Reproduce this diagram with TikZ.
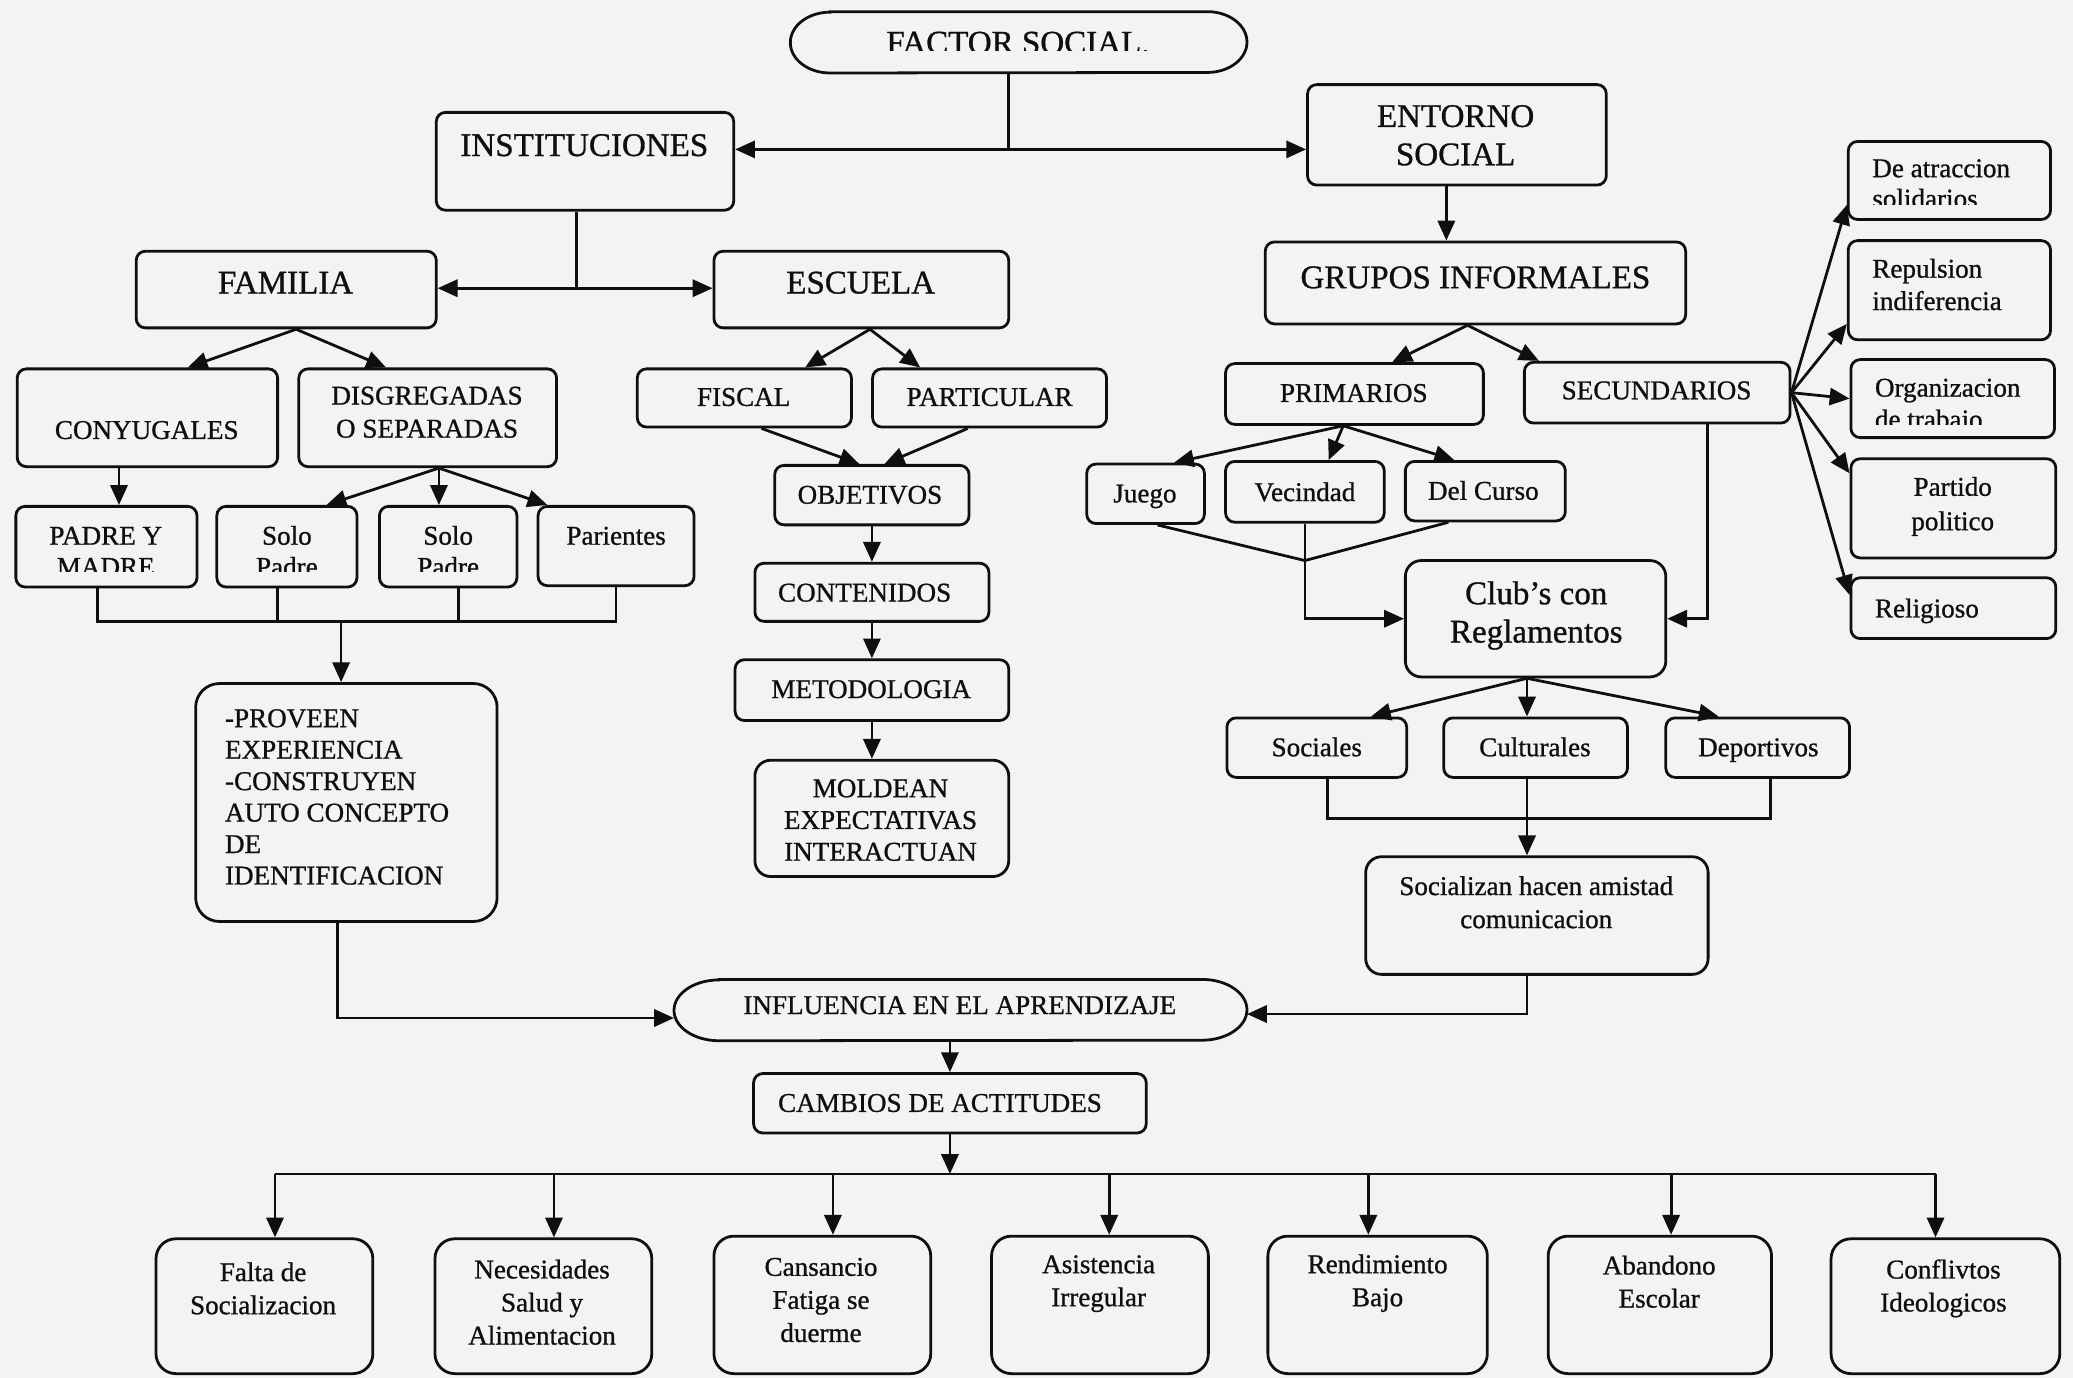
\documentclass[tikz,border=0pt]{standalone}
\usepackage{fontspec}
\setmainfont{Liberation Serif}[FakeBold=0.9]
\usetikzlibrary{arrows.meta,fit,calc}
\definecolor{ink}{RGB}{15,15,15}
\definecolor{paper}{RGB}{243,243,243}
\newcommand\fsm{\fontsize{20.5}{24.5}\selectfont}
\newcommand\fbig{\fontsize{25}{29}\selectfont}
\newcommand\ml[2][c]{\begin{tabular}[t]{@{}#1@{}}#2\end{tabular}}
\begin{document}
\begin{tikzpicture}[x=1pt,y=-1pt,
 bx/.style={draw=ink,line width=2.1pt,rounded corners=7pt,inner sep=0pt,fit={#1}},
 hid/.style={inner sep=0pt,fit={#1}},
 ln/.style={draw=ink,line width=2.1pt},
 arr/.style={ln,-{Triangle[length=15pt,width=13pt]}},
 tx/.style={inner sep=0pt,anchor=base,text=ink,font=\fsm},
 tl/.style={tx,anchor=base west},
 tb/.style={inner sep=0pt,anchor=base,text=ink,font=\fbig}]
\fill[paper] (0,0) rectangle (1568,1042);
\useasboundingbox (0,0) rectangle (1568,1042);

% ---------- top ----------
\node[hid={(598,9) (943,55)}] (fact) {};
\draw[ln] ([xshift=30pt]fact.north west) -- ([xshift=-30pt]fact.north east)
  arc[start angle=90,end angle=-90,x radius=30pt,y radius=23pt]
  -- ([xshift=30pt]fact.south west)
  arc[start angle=270,end angle=90,x radius=30pt,y radius=23pt] -- cycle;
\begin{scope}
\clip (600,10) rectangle (940,38.5);
\node[tb] (fact-t) at (770,40.5) {FACTOR SOCIAL.};
\end{scope}

\node[bx={(330,85) (555,159)}] (inst) {};
\node[tb] (inst-t) at (442,118) {INSTITUCIONES};
\node[bx={(989,64) (1215,140)}] (ent) {};
\node[tb] (ent-t) at (1101,96) {\ml{ENTORNO\\SOCIAL}};

% ---------- familia ----------
\node[bx={(103,190) (330,248)}] (fam) {};
\node[tb] (fam-t) at (216,222) {FAMILIA};
\node[bx={(540,190) (763,248)}] (esc) {};
\node[tb] (esc-t) at (651,222) {ESCUELA};

\node[bx={(13,279) (210,353)}] (cony) {};
\node[tx] (cony-t) at (111,332) {CONYUGALES};
\node[bx={(226,279) (421,353)}] (disg) {};
\node[tx,font=\fontsize{20.5}{25}\selectfont] (disg-t) at (323,306) {\ml{DISGREGADAS\\O SEPARADAS}};

\node[bx={(12,383) (149,444)}] (pym) {};
\node[bx={(164,383) (270,444)}] (sp1) {};
\node[bx={(287,383) (391,444)}] (sp2) {};
\node[bx={(407,383) (525,443)}] (par) {};
\begin{scope}
\clip (14,385) rectangle (523,432);
\node[tx,font=\fontsize{20.5}{23.5}\selectfont] (pym-t) at (80,412) {\ml{PADRE Y\\MADRE}};
\node[tx,font=\fontsize{20.5}{23.5}\selectfont] (sp1-t) at (217,412) {\ml{Solo\\Padre}};
\node[tx,font=\fontsize{20.5}{23.5}\selectfont] (sp2-t) at (339,412) {\ml{Solo\\Padre}};
\end{scope}
\node[tx] (par-t) at (466,412) {Parientes};

\node[bx={(148,517) (376,697)},rounded corners=18pt] (prov) {};
\node[tl,font=\fontsize{20.5}{23.8}\selectfont] (prov-t) at (170,550)
  {\ml[l]{-PROVEEN\\EXPERIENCIA\\-CONSTRUYEN\\AUTO CONCEPTO\\DE\\IDENTIFICACION}};

% ---------- escuela ----------
\node[bx={(482,279) (644,323)}] (fisc) {};
\node[tx] (fisc-t) at (562.5,307) {FISCAL};
\node[bx={(660,279) (837,323)}] (part) {};
\node[tx] (part-t) at (748.5,307) {PARTICULAR};
\node[bx={(586,352) (733,397)}] (obj) {};
\node[tx] (obj-t) at (658,381) {OBJETIVOS};
\node[bx={(571,426) (748,470)}] (cont) {};
\node[tx] (cont-t) at (654,455) {CONTENIDOS};
\node[bx={(556,499) (763,545)}] (met) {};
\node[tx] (met-t) at (659,528) {METODOLOGIA};
\node[bx={(571,575) (763,663)},rounded corners=12pt] (mold) {};
\node[tx,font=\fontsize{20.5}{24}\selectfont] (mold-t) at (666,603) {\ml{MOLDEAN\\EXPECTATIVAS\\INTERACTUAN}};

% ---------- entorno ----------
\node[bx={(957,183) (1275,245)}] (grp) {};
\node[tb] (grp-t) at (1116,218) {GRUPOS INFORMALES};
\node[bx={(927,275) (1122,321)}] (prim) {};
\node[tx] (prim-t) at (1024,304) {PRIMARIOS};
\node[bx={(1153,274) (1354,320)}] (sec) {};
\node[tx] (sec-t) at (1253,302) {SECUNDARIOS};
\node[bx={(822,351) (911,396)}] (jue) {};
\node[tx] (jue-t) at (866,380) {Juego};
\node[bx={(927,349) (1047,395)}] (vec) {};
\node[tx] (vec-t) at (987,379) {Vecindad};
\node[bx={(1063,349) (1184,394)}] (del) {};
\node[tx] (del-t) at (1122,378) {Del Curso};
\node[bx={(1063,424) (1260,512)},rounded corners=12pt] (club) {};
\node[tb] (club-t) at (1162,457) {\ml{Club’s con\\Reglamentos}};
\node[bx={(928,543) (1064,588)}] (soc) {};
\node[tx] (soc-t) at (996,572) {Sociales};
\node[bx={(1092,543) (1231,588)}] (cul) {};
\node[tx] (cul-t) at (1161,572) {Culturales};
\node[bx={(1260,543) (1399,588)}] (dep) {};
\node[tx] (dep-t) at (1330,572) {Deportivos};
\node[bx={(1033,648) (1292,737)},rounded corners=12pt] (sohac) {};
\node[tx,font=\fontsize{20.5}{25}\selectfont] (sohac-t) at (1162,677) {\ml{Socializan hacen amistad\\comunicacion}};

\node[bx={(1398,107) (1551,166)}] (deat) {};
\node[bx={(1398,182) (1551,257)}] (rep) {};
\node[bx={(1400,272) (1554,331)}] (org) {};
\node[bx={(1400,347) (1555,422)}] (parti) {};
\node[bx={(1400,437) (1555,483)}] (rel) {};
\begin{scope}
\clip (1400,109) rectangle (1549,155);
\node[tl,font=\fontsize{20.5}{23}\selectfont] (deat-t) at (1416,134) {\ml[l]{De atraccion\\solidarios}};
\end{scope}
\node[tl] (rep-t) at (1416,210) {\ml[l]{Repulsion\\indiferencia}};
\begin{scope}
\clip (1402,274) rectangle (1552,321);
\node[tl,font=\fontsize{20.5}{24}\selectfont] (org-t) at (1418,300) {\ml[l]{Organizacion\\de trabajo}};
\end{scope}
\node[tx,font=\fontsize{20.5}{26}\selectfont] (parti-t) at (1477,375) {\ml{Partido\\politico}};
\node[tl] (rel-t) at (1418,467) {Religioso};

% ---------- bottom ----------
\node[hid={(510,741) (943,787)}] (infl) {};
\draw[ln] ([xshift=34pt]infl.north west) -- ([xshift=-34pt]infl.north east)
  arc[start angle=90,end angle=-90,x radius=34pt,y radius=23pt]
  -- ([xshift=34pt]infl.south west)
  arc[start angle=270,end angle=90,x radius=34pt,y radius=23pt] -- cycle;
\node[tx] (infl-t) at (726,767) {INFLUENCIA EN EL APRENDIZAJE};
\node[bx={(570,812) (867,857)}] (camb) {};
\node[tx] (camb-t) at (711,841) {CAMBIOS DE ACTITUDES};

\node[bx={(118,937) (282,1039)},rounded corners=15pt] (b1) {};
\node[bx={(329,937) (493,1039)},rounded corners=15pt] (b2) {};
\node[bx={(540,935) (704,1039)},rounded corners=15pt] (b3) {};
\node[bx={(750,935) (914,1039)},rounded corners=15pt] (b4) {};
\node[bx={(959,935) (1125,1039)},rounded corners=15pt] (b5) {};
\node[bx={(1171,935) (1340,1039)},rounded corners=15pt] (b6) {};
\node[bx={(1385,937) (1558,1039)},rounded corners=15pt] (b7) {};
\node[tx,font=\fontsize{20.5}{25}\selectfont] (b1-t) at (199,969) {\ml{Falta de\\Socializacion}};
\node[tx,font=\fontsize{20.5}{25}\selectfont] (b2-t) at (410,967) {\ml{Necesidades\\Salud y\\Alimentacion}};
\node[tx,font=\fontsize{20.5}{25}\selectfont] (b3-t) at (621,965) {\ml{Cansancio\\Fatiga se\\duerme}};
\node[tx,font=\fontsize{20.5}{25}\selectfont] (b4-t) at (831,963) {\ml{Asistencia\\Irregular}};
\node[tx,font=\fontsize{20.5}{25}\selectfont] (b5-t) at (1042,963) {\ml{Rendimiento\\Bajo}};
\node[tx,font=\fontsize{20.5}{25}\selectfont] (b6-t) at (1255,964) {\ml{Abandono\\Escolar}};
\node[tx,font=\fontsize{20.5}{25}\selectfont] (b7-t) at (1470,967) {\ml{Conflivtos\\Ideologicos}};

% ---------- connectors ----------
\coordinate (j1) at (763,113);
\draw[ln] (j1 |- fact.south) -- (j1);
\draw[arr] (j1) -- (j1 -| inst.east);
\draw[arr] (j1) -- (j1 -| ent.west);

\coordinate (j2) at (436,218);
\draw[ln] (j2 |- inst.south) -- (j2);
\draw[arr] (j2) -- (j2 -| fam.east);
\draw[arr] (j2) -- (j2 -| esc.west);

\draw[arr] ([xshift=7.5]fam.south) -- ([xshift=30.5]cony.north);
\draw[arr] ([xshift=7.5]fam.south) -- ([xshift=-31.5]disg.north);
\draw[arr] ([xshift=-21.5]cony.south) -- ([xshift=9.5]pym.north);
\draw[arr] ([xshift=8.5]disg.south) -- ([xshift=30]sp1.north);
\draw[arr] ([xshift=8.5]disg.south) -- ([xshift=-7]sp2.north);
\draw[arr] ([xshift=8.5]disg.south) -- ([xshift=-52]par.north);

\coordinate (j3) at (258,470);
\draw[ln] ([xshift=-6.5]pym.south) |- (j3 -| par.south) -- (par.south);
\draw[ln] ([xshift=-7]sp1.south) -- ([xshift=-7]sp1.south |- j3);
\draw[ln] ([xshift=8]sp2.south) -- ([xshift=8]sp2.south |- j3);
\draw[arr] (j3) -- (j3 |- prov.north);
\draw[arr] ([xshift=-7]prov.south) |- ($(infl.west)+(0,6)$);

\draw[arr] ([xshift=6.5]esc.south) -- ([xshift=46]fisc.north);
\draw[arr] ([xshift=6.5]esc.south) -- ([xshift=-52.5]part.north);
\draw[arr] ([xshift=13]fisc.south) -- ([xshift=-9.5]obj.north);
\draw[arr] ([xshift=-16.5]part.south) -- ([xshift=9.5]obj.north);
\draw[arr] (obj.south) -- (obj.south |- cont.north);
\draw[arr] (cont.south) -- (cont.south |- met.north);
\draw[arr] (met.south) -- (met.south |- mold.north);

\draw[arr] ([xshift=-8]ent.south) -- ([xshift=-8]ent.south |- grp.north);
\draw[arr] ([xshift=-6]grp.south) -- ([xshift=28.5]prim.north);
\draw[arr] ([xshift=-6]grp.south) -- ([xshift=-89.5]sec.north);
\draw[arr] ([xshift=-8.5]prim.south) -- ([xshift=21.5]jue.north);
\draw[arr] ([xshift=-8.5]prim.south) -- ([xshift=18]vec.north);
\draw[arr] ([xshift=-8.5]prim.south) -- ([xshift=-23.5]del.north);
\coordinate (j4) at (987,424);
\draw[ln] ([xshift=9]jue.south) -- (j4) -- ([xshift=-28]del.south);
\draw[arr] (vec.south) |- (club.west);
\draw[arr] ([xshift=38]sec.south) |- (club.east);

\draw[arr] (sec.east) -- ($(deat.west)+(0,18.5)$);
\draw[arr] (sec.east) -- ($(rep.west)+(0,25.5)$);
\draw[arr] (sec.east) -- (org.west);
\draw[arr] (sec.east) -- ($(parti.west)+(0,-26.5)$);
\draw[arr] (sec.east) -- ($(rel.west)+(0,-10)$);

\draw[arr] ([xshift=-6.5]club.south) -- ([xshift=41]soc.north);
\draw[arr] ([xshift=-6.5]club.south) -- ([xshift=-6.5]cul.north);
\draw[arr] ([xshift=-6.5]club.south) -- ([xshift=-29.5]dep.north);
\draw[ln] ([xshift=8]soc.south) -- ++(0,30) -| ([xshift=9.5]dep.south);
\draw[arr] ([xshift=-6.5]cul.south) -- ([xshift=-6.5]cul.south |- sohac.north);
\draw[arr] ([xshift=-7.5]sohac.south) |- ($(infl.east)+(0,3)$);

\draw[arr] (infl.south -| camb.north) -- (camb.north);
\coordinate (j5) at (718.5,888);
\draw[arr] (camb.south) -- (j5);
\draw[ln] ([xshift=8]b1.north |- j5) -- ([xshift=-7.5]b7.north |- j5);
\draw[arr] ([xshift=8]b1.north |- j5) -- ([xshift=8]b1.north);
\draw[arr] ([xshift=8]b2.north |- j5) -- ([xshift=8]b2.north);
\draw[arr] ([xshift=8]b3.north |- j5) -- ([xshift=8]b3.north);
\draw[arr] ([xshift=7]b4.north |- j5) -- ([xshift=7]b4.north);
\draw[arr] ([xshift=-7]b5.north |- j5) -- ([xshift=-7]b5.north);
\draw[arr] ([xshift=8.5]b6.north |- j5) -- ([xshift=8.5]b6.north);
\draw[arr] ([xshift=-7.5]b7.north |- j5) -- ([xshift=-7.5]b7.north);
\end{tikzpicture}
\end{document}
